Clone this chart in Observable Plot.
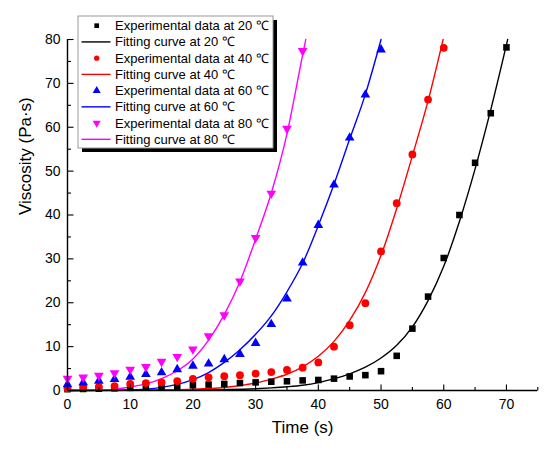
<!DOCTYPE html>
<html><head><meta charset="utf-8">
<script src="https://cdn.jsdelivr.net/npm/d3@7"></script>
<script src="https://cdn.jsdelivr.net/npm/@observablehq/plot@0.6"></script>
<style>body{margin:0;background:#fff}</style>
</head><body><div id="chart"></div><script>
// ---- data ----
const time = [0,2.5,5,7.5,10,12.5,15,17.5,20,22.5,25,27.5,30,32.5,35,37.5,40,42.5,45,47.5,50,52.5,55,57.5,60,62.5,65,67.5,70];
const exp20 = [0.3,0.35,0.4,0.5,0.6,0.75,0.8,0.9,1.2,1.35,1.5,1.7,1.85,2.0,2.1,2.3,2.4,2.7,3.2,3.5,4.4,7.9,14.1,21.4,30.2,40.0,51.9,63.2,78.2];
const exp40 = [0.5,0.7,0.8,1.0,1.5,1.7,1.85,2.15,2.65,3.0,3.25,3.5,3.85,4.2,4.7,5.2,6.4,10.0,14.9,19.9,31.7,42.7,53.8,66.3,78.1];
const exp60 = [1.4,1.8,2.2,2.6,3.1,3.7,4.1,4.8,5.6,6.1,7.1,8.3,10.8,15.1,20.9,29.1,37.7,46.9,57.6,67.4,77.7];
const exp80 = [2.7,3.0,3.4,4.0,4.8,5.4,6.6,7.7,9.4,12.4,17.2,24.9,34.8,44.9,59.7,77.4];

const fit20x = [0,10,20,25,30,32.5,35,37.5,40,42.5,45,47.5,50,52.5,55,57.5,60,62.5,65,67.5,70.2];
const fit20y = [0,0.02,0.1,0.2,0.4,0.6,0.85,1.2,1.8,2.7,3.8,5.3,7.4,10.3,14.5,20.5,28.3,38.5,50.5,64,80];
const fit40x = [0,10,15,20,25,27.5,30,32.5,35,37.5,40,42.5,45,47.5,50,52.5,55,57.5,59.9];
const fit40y = [0,0.05,0.15,0.3,0.7,1.1,1.7,2.6,3.7,5.4,7.8,11.2,16,22.3,30.8,41.5,53.5,66,80];
const fit60x = [0,5,10,12.5,15,17.5,20,22.5,25,27.5,30,32.5,35,37.5,40,42.5,45,47.5,50];
const fit60y = [0,0.03,0.1,0.3,0.7,1.4,2.5,4.1,6.4,9.3,12.8,17,22.5,29,37.6,47,57.3,67.5,80];
const fit80x = [0,5,7.5,10,12.5,15,17.5,20,22.5,25,27.5,30,32.5,35,37.5,38];
const fit80y = [0,0.05,0.3,0.8,1.5,2.7,4.5,7.2,11.5,17.3,24.8,34.5,45,58.5,76.5,80];

const xMajor = [0,10,20,30,40,50,60,70];
const xMinor = [5,15,25,35,45,55,65,75];
const yMajor = [0,10,20,30,40,50,60,70,80];
const yMinor = [5,15,25,35,45,55,65,75];

const legendLabels = [
  "Experimental data at 20 ℃","Fitting curve at 20 ℃",
  "Experimental data at 40 ℃","Fitting curve at 40 ℃",
  "Experimental data at 60 ℃","Fitting curve at 60 ℃",
  "Experimental data at 80 ℃","Fitting curve at 80 ℃"
];
const colors = ["#000000","#ff0000","#0000ff","#ff00ff"];

// ---- build tables ----
const pts = (ys) => ys.map((v,i)=>({x: time[i], y: v}));
const fit = (xs, ys) => xs.map((x,i)=>({x, y: ys[i]}));

const triangleDown = {draw(ctx, size){
  const y = -Math.sqrt(size/(Math.sqrt(3)*3));
  ctx.moveTo(0, -y*2);
  ctx.lineTo(-Math.sqrt(3)*y, y);
  ctx.lineTo(Math.sqrt(3)*y, y);
  ctx.closePath();
}};
const hTick = (len)=>({draw(ctx){ctx.moveTo(0,0); ctx.lineTo(len,0);}});
const vTick = (len)=>({draw(ctx){ctx.moveTo(0,0); ctx.lineTo(0,-len);}});

const font = "'Liberation Sans', Arial, sans-serif";

const plot = Plot.plot({
  width: 550, height: 451,
  marginLeft: 67, marginRight: 12.7, marginTop: 39, marginBottom: 61,
  style: {fontFamily: font, background: "#fff", color: "#000", overflow: "visible"},
  x: {domain: [0, 75]},
  y: {domain: [0, 80]},
  marks: [
    Plot.line(fit(fit20x, fit20y), {x:"x", y:"y", stroke: colors[0], strokeWidth: 1.4, curve: "monotone-x"}),
    Plot.line(fit(fit40x, fit40y), {x:"x", y:"y", stroke: colors[1], strokeWidth: 1.4, curve: "monotone-x"}),
    Plot.line(fit(fit60x, fit60y), {x:"x", y:"y", stroke: colors[2], strokeWidth: 1.4, curve: "monotone-x"}),
    Plot.line(fit(fit80x, fit80y), {x:"x", y:"y", stroke: colors[3], strokeWidth: 1.4, curve: "monotone-x"}),
    Plot.dot(pts(exp20), {x:"x", y:"y", symbol:"square", r: 3.7, fill: colors[0], stroke: "none"}),
    Plot.dot(pts(exp40), {x:"x", y:"y", symbol:"circle", r: 3.9, fill: colors[1], stroke: "none"}),
    Plot.dot(pts(exp60), {x:"x", y:"y", symbol:"triangle", r: 3.6, fill: colors[2], stroke: "none"}),
    Plot.dot(pts(exp80), {x:"x", y:"y", symbol: triangleDown, r: 3.6, fill: colors[3], stroke: "none"}),
    // axis lines
    Plot.ruleX([0], {stroke: "#000", strokeWidth: 1.4}),
    Plot.ruleY([0], {stroke: "#000", strokeWidth: 1.4}),
    // inward ticks
    Plot.dot(xMajor, {x: d=>d, y: 0, symbol: vTick(6), stroke: "#000", fill: "none", strokeWidth: 1.1}),
    Plot.dot(xMinor, {x: d=>d, y: 0, symbol: vTick(3.5), stroke: "#000", fill: "none", strokeWidth: 1.1}),
    Plot.dot(yMajor, {x: 0, y: d=>d, symbol: hTick(6), stroke: "#000", fill: "none", strokeWidth: 1.1}),
    Plot.dot(yMinor, {x: 0, y: d=>d, symbol: hTick(3.5), stroke: "#000", fill: "none", strokeWidth: 1.1}),
    Plot.axisX(xMajor, {tickSize: 0, tickPadding: 9, fontSize: 14, label: null}),
    Plot.axisY(yMajor, {tickSize: 0, tickPadding: 7, fontSize: 14, label: null}),
    Plot.text(["Time (s)"], {frameAnchor: "bottom", dy: 42, fontSize: 17, fill: "#000"}),
    Plot.text(["Viscosity (Pa·s)"], {frameAnchor: "left", dx: -42, rotate: -90, fontSize: 17, fill: "#000"})
  ]
});
document.getElementById("chart").appendChild(plot);

// ---- legend ----
const svg = d3.select(plot);
const lg = svg.append("g").attr("font-family", font).attr("font-size", 13).attr("text-anchor", "start");
const bx = 78, by = 16, bw = 195, bh = 132;
lg.append("rect").attr("x", bx+4).attr("y", by+4).attr("width", bw).attr("height", bh).attr("fill", "#000");
lg.append("rect").attr("x", bx).attr("y", by).attr("width", bw).attr("height", bh).attr("fill", "#fff").attr("stroke", "#999").attr("stroke-width", 1);
const legendSymbols = [d3.symbolSquare, d3.symbolCircle, d3.symbolTriangle, triangleDown];
legendLabels.forEach((lab, i) => {
  const cy = 25.7 + i*16.23;
  const s = Math.floor(i/2);
  if (i % 2 === 0) {
    lg.append("path").attr("transform", `translate(96.7,${cy})`)
      .attr("d", d3.symbol(legendSymbols[s], s >= 2 ? 28 : 22)()).attr("fill", colors[s]);
  } else {
    lg.append("line").attr("x1", 81.5).attr("x2", 110.5).attr("y1", cy).attr("y2", cy)
      .attr("stroke", colors[s]).attr("stroke-width", 1.4);
  }
  lg.append("text").attr("x", 115).attr("y", cy).attr("dy", "0.35em").attr("text-anchor", "start").attr("fill", "#000").text(lab);
});
</script></body></html>
